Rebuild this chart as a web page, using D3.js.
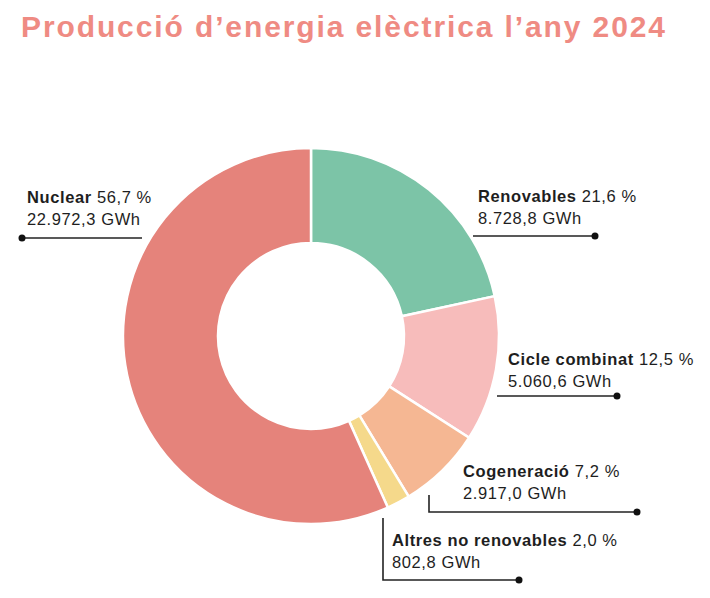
<!DOCTYPE html>
<html>
<head>
<meta charset="utf-8">
<script src="https://cdn.jsdelivr.net/npm/d3@7"></script>
<style>
  body { margin: 0; background: #fff; }
  svg text { font-family: "Liberation Sans", Arial, sans-serif; }
</style>
</head>
<body>
<div id="chart"></div>
<script>
const title = "Producció d’energia elèctrica l’any 2024";
const categories = ["Renovables", "Cicle combinat", "Cogeneració", "Altres no renovables", "Nuclear"];
const shares = [21.6, 12.5, 7.2, 2.0, 56.7];
const energyGWh = ["8.728,8", "5.060,6", "2.917,0", "802,8", "22.972,3"];
const colors = ["#7cc4a7", "#f7bcbb", "#f5b793", "#f5d98b", "#e5837b"];

// leader lines and label placement, in page pixels
const labelLayout = [
  { tx: 478, ty: 202, path: [[473, 236], [595, 236]] },
  { tx: 508, ty: 365, path: [[497, 396], [617, 396]] },
  { tx: 463, ty: 477, path: [[429, 495], [429, 512], [637, 512]] },
  { tx: 392, ty: 546, path: [[383, 518], [383, 580], [519, 580]] },
  { tx: 27, ty: 203, path: [[142, 238], [22, 238]] }
];

const width = 710, height = 598;
const cx = 311, cy = 336;
const outerR = 188, innerR = 93;

const svg = d3.select("#chart")
  .append("svg")
  .attr("width", width)
  .attr("height", height);

svg.append("text")
  .attr("x", 21)
  .attr("y", 37)
  .attr("fill", "#ef8b83")
  .attr("font-size", 30)
  .attr("font-weight", "bold")
  .attr("textLength", 644)
  .attr("lengthAdjust", "spacing")
  .text(title);

const data = categories.map((c, i) => ({
  name: c, share: shares[i], gwh: energyGWh[i], color: colors[i], layout: labelLayout[i]
}));

const pie = d3.pie().sort(null).value(d => d.share);
const arc = d3.arc().innerRadius(innerR).outerRadius(outerR);

const g = svg.append("g").attr("transform", `translate(${cx},${cy})`);

g.selectAll("path")
  .data(pie(data))
  .join("path")
  .attr("d", arc)
  .attr("fill", d => d.data.color)
  .attr("stroke", "#fff")
  .attr("stroke-width", 2.5);

const line = d3.line();
const fmt = d3.format(".1f");

const labels = svg.selectAll("g.label")
  .data(data)
  .join("g")
  .attr("class", "label");

labels.append("path")
  .attr("d", d => line(d.layout.path))
  .attr("fill", "none")
  .attr("stroke", "#222")
  .attr("stroke-width", 1.6);

labels.append("circle")
  .attr("cx", d => d.layout.path[d.layout.path.length - 1][0])
  .attr("cy", d => d.layout.path[d.layout.path.length - 1][1])
  .attr("r", 3.5)
  .attr("fill", "#111");

const txt = labels.append("text")
  .attr("x", d => d.layout.tx)
  .attr("y", d => d.layout.ty)
  .attr("font-size", 16.5)
  .attr("letter-spacing", 0.6)
  .attr("fill", "#1e1e1e");

txt.append("tspan")
  .attr("font-weight", "bold")
  .text(d => d.name);

txt.append("tspan")
  .text(d => " " + fmt(d.share).replace(".", ",") + " %");

labels.append("text")
  .attr("x", d => d.layout.tx)
  .attr("y", d => d.layout.ty + 22)
  .attr("font-size", 16.5)
  .attr("letter-spacing", 0.6)
  .attr("fill", "#1e1e1e")
  .text(d => d.gwh + " GWh");
</script>
</body>
</html>
